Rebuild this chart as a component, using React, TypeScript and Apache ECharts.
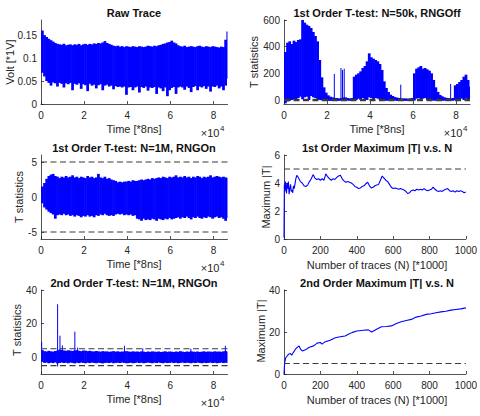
import React, { useEffect, useRef } from 'react';
import * as echarts from 'echarts';

const BLUE = '#0000ff';
const AXIS = '#262626';
const DASH = '#3a3a3a';
const FONT = '"Liberation Sans", Arial, Helvetica, sans-serif';

// ---- shared axis data ----
const BIN = 1000; // samples covered by one envelope bin (Time [*8ns])
const T_END = 86500;
const THRESHOLD = 5;
const TIME_TICKS = [0, 20000, 40000, 60000, 80000];
const N_TICKS = [0, 200, 400, 600, 800, 1000];
const RAW_TICKS = [0, 0.05, 0.1, 0.15];
const T50K_TICKS = [0, 200, 400, 600];
const T1M_TICKS = [-5, 0, 5];
const T2_TICKS = [0, 20, 40];
const MAX1_TICKS = [0, 2, 4, 6];

// ---- Raw trace envelope (Volt), one value per 1000-sample bin ----
const RAW_HI = [
  0.160, 0.150, 0.146, 0.142, 0.139, 0.136, 0.133, 0.131, 0.130, 0.129,
  0.131, 0.128, 0.129, 0.130, 0.128, 0.130, 0.129, 0.131, 0.128, 0.130,
  0.131, 0.129, 0.131, 0.130, 0.132, 0.131, 0.133, 0.132, 0.134, 0.137,
  0.133, 0.131, 0.129, 0.127, 0.126, 0.127, 0.125, 0.126, 0.124, 0.126,
  0.125, 0.124, 0.126, 0.125, 0.124, 0.126, 0.125, 0.124, 0.125, 0.127,
  0.126, 0.125, 0.127, 0.126, 0.128, 0.129, 0.131, 0.132, 0.134, 0.135,
  0.138, 0.134, 0.132, 0.128, 0.126, 0.125, 0.127, 0.124, 0.125, 0.126,
  0.125, 0.124, 0.126, 0.127, 0.125, 0.124, 0.126, 0.125, 0.124, 0.126,
  0.125, 0.124, 0.123, 0.125, 0.124, 0.140, 0.158,
];
const RAW_LO = [
  0.068, 0.060, 0.050, 0.046, 0.040, 0.047, 0.045, 0.038, 0.046, 0.044,
  0.036, 0.045, 0.043, 0.046, 0.030, 0.044, 0.042, 0.045, 0.033, 0.043,
  0.041, 0.028, 0.044, 0.040, 0.042, 0.034, 0.041, 0.043, 0.030, 0.040,
  0.042, 0.038, 0.040, 0.032, 0.039, 0.037, 0.038, 0.036, 0.038, 0.020,
  0.036, 0.037, 0.030, 0.036, 0.038, 0.025, 0.037, 0.035, 0.038, 0.029,
  0.036, 0.035, 0.037, 0.022, 0.036, 0.034, 0.028, 0.036, 0.017, 0.030,
  0.035, 0.037, 0.022, 0.036, 0.038, 0.036, 0.031, 0.038, 0.035, 0.026,
  0.037, 0.039, 0.030, 0.038, 0.036, 0.039, 0.033, 0.038, 0.027, 0.038,
  0.037, 0.040, 0.034, 0.038, 0.030, 0.040, 0.055,
];

// ---- 1st order T-test, N=50k, RNG off ----
const T50K_HI = [
  360, 430, 440, 420, 445, 435, 450, 455, 600, 580,
  565, 555, 540, 510, 480, 440, 300, 170, 95, 55,
  35, 25, 20, 15, 15, 12, 15, 20, 20, 15,
  12, 15, 175, 190, 200, 215, 240, 255, 290, 350,
  320, 310, 300, 290, 270, 225, 140, 90, 60, 40,
  30, 22, 18, 15, 12, 12, 12, 10, 12, 15,
  200, 235, 245, 255, 235, 240, 230, 220, 200, 150,
  95, 60, 38, 28, 20, 16, 14, 12, 15, 110,
  120, 135, 150, 175, 190, 150, 100,
];
const T50K_LO = [
  -25, -10, -5, 0, 5, 0, 15, 25, 5, 20,
  25, 0, 30, 20, 15, 5, 0, -3, -5, -5,
  -6, -7, -5, -6, -8, -6, -5, -7, -6, -5,
  -6, -5, -5, 0, 10, 0, 15, 5, 0, 20,
  15, 0, 15, 10, 0, -3, -5, -6, -5, -7,
  -6, -5, -7, -6, -5, -6, -7, -5, -6, -5,
  -5, 10, 15, 0, 10, 15, 0, 5, -3, -5,
  -6, -5, -7, -6, -5, -6, -7, -5, -6, 0,
  5, 0, 10, 0, 10, 0, -5,
];
const T50K_SPIKE_X = [23400, 26500, 27200, 28000, 54300, 77500];
const T50K_SPIKE_Y = [195, 240, 225, 235, 115, 120];

// ---- 1st order T-test, N=1M, RNG on ----
const T1M_HI = [
  1.5, 2.0, 2.6, 3.0, 3.2, 3.3, 3.0, 2.9, 2.7, 2.9,
  2.8, 3.0, 2.8, 2.9, 3.1, 2.8, 2.9, 2.7, 2.9, 2.8,
  2.7, 3.0, 2.8, 2.9, 2.7, 2.8, 3.3, 2.8, 2.7, 2.9,
  2.6, 2.7, 2.5, 2.4, 2.3, 2.1, 2.2, 2.1, 2.2, 2.2,
  2.3, 2.2, 2.4, 2.3, 2.3, 2.4, 2.5, 2.4, 2.5, 2.6,
  2.5, 2.7, 2.6, 2.7, 2.8, 2.7, 2.9, 2.8, 2.7, 2.9,
  2.8, 2.9, 3.1, 2.8, 2.9, 2.8, 3.0, 2.8, 2.9, 2.7,
  2.9, 2.8, 3.0, 2.9, 2.7, 2.9, 2.8, 2.9, 3.1, 2.8,
  2.9, 3.0, 2.9, 2.8, 2.9, 2.8, 2.7,
];
const T1M_LO = [
  -0.9, -1.5, -1.8, -2.1, -2.3, -2.5, -3.1, -2.6, -2.5, -2.6,
  -2.4, -2.6, -2.5, -2.7, -2.6, -2.8, -2.6, -2.7, -2.9, -2.7,
  -2.8, -2.6, -2.8, -2.7, -2.9, -2.6, -2.7, -2.5, -2.6, -2.4,
  -2.6, -2.7, -2.6, -2.7, -2.5, -2.4, -2.5, -2.4, -2.6, -2.5,
  -2.6, -2.5, -2.7, -2.6, -3.1, -3.2, -3.4, -3.1, -3.3, -3.2,
  -3.3, -3.1, -3.2, -3.4, -3.1, -3.2, -3.3, -3.1, -3.2, -3.0,
  -3.2, -3.1, -3.0, -2.9, -3.1, -2.9, -3.0, -2.8, -3.0, -3.2,
  -2.9, -3.0, -2.8, -3.0, -3.1, -2.9, -3.0, -2.8, -2.9, -3.1,
  -2.9, -2.8, -3.0, -2.9, -3.1, -3.4, -3.0,
];

// ---- 2nd order T-test, N=1M, RNG on ----
const T2_HI = [
  4.2, 3.6, 3.4, 3.8, 3.5, 3.3, 3.7, 3.9, 4.5, 4.3,
  4.0, 3.8, 4.1, 3.9, 3.7, 4.0, 4.2, 3.8, 3.6, 4.0,
  3.9, 3.6, 3.8, 3.5, 3.4, 3.7, 3.5, 3.3, 3.6, 3.4,
  3.5, 3.2, 3.4, 3.6, 3.3, 3.5, 3.2, 3.4, 3.3, 3.6,
  3.4, 3.2, 3.5, 3.3, 3.4, 3.2, 3.5, 3.3, 3.1, 3.4,
  3.2, 3.5, 3.3, 3.2, 3.4, 3.1, 3.3, 3.5, 3.2, 3.4,
  3.3, 3.1, 3.4, 3.2, 3.6, 3.3, 3.1, 3.4, 3.2, 3.5,
  3.3, 3.2, 3.4, 3.1, 3.3, 3.5, 3.2, 3.4, 3.3, 3.2,
  3.5, 3.3, 3.4, 3.2, 3.5, 3.6, 3.4,
];
const T2_LO = [
  -2.8, -3.4, -3.2, -3.6, -3.3, -3.5, -3.1, -3.7, -3.4, -3.2,
  -3.5, -3.3, -3.6, -3.2, -3.4, -3.7, -3.3, -3.5, -3.2, -3.4,
  -3.6, -3.3, -3.5, -3.2, -3.4, -3.6, -3.3, -3.5, -3.7, -3.4,
  -3.3, -3.5, -3.2, -3.6, -3.4, -3.3, -3.5, -3.2, -3.4, -3.6,
  -3.5, -3.3, -3.6, -3.4, -3.2, -3.5, -3.3, -3.6, -3.4, -3.2,
  -3.4, -3.6, -3.3, -3.5, -3.2, -3.4, -3.6, -3.3, -3.5, -3.4,
  -3.2, -3.5, -3.3, -3.6, -3.4, -3.2, -3.5, -3.3, -3.4, -3.6,
  -3.3, -3.5, -3.2, -3.4, -3.6, -3.3, -3.5, -3.4, -3.2, -3.5,
  -3.3, -3.6, -3.4, -3.2, -3.5, -3.3, -3.4,
];
const T2_SPIKE_X = [300, 7700, 8800, 9900, 15700, 17000, 38700, 47200, 69500, 85500];
const T2_SPIKE_LO = [0, -5.5, 0, 0, 0, 0, 0, 0, 0, 0];
const T2_SPIKE_HI = [9.0, 31.5, 12.8, 7.0, 15.2, 5.8, 6.8, 5.2, 5.0, 6.8];

// ---- 1st order maximum |T| vs N (N in thousands) ----
const N1 = [
  0, 2, 5, 8, 11, 14, 17, 20, 24, 28, 32, 36, 40, 44, 48, 52, 56, 60, 65, 70, 76, 82, 90, 100,
  110, 120, 130, 140, 150, 160, 170, 180, 190, 200,
  210, 220, 230, 240, 250, 260, 270, 280, 290, 300,
  310, 320, 330, 340, 350, 360, 370, 380, 390, 400,
  410, 420, 430, 440, 450, 460, 470, 480, 490, 500,
  510, 520, 530, 540, 550, 560, 570, 580, 590, 600,
  610, 620, 630, 640, 650, 660, 670, 680, 690, 700,
  710, 720, 730, 740, 750, 760, 770, 780, 790, 800,
  810, 820, 830, 840, 850, 860, 870, 880, 890, 900,
  910, 920, 930, 940, 950, 960, 970, 980, 990, 1000,
];
const MAXT1 = [
  0.1, 3.9, 3.4, 4.1, 3.7, 3.25, 4.0, 3.6, 4.1, 3.2, 3.6, 3.9, 3.4, 3.5, 3.3, 3.8, 3.6, 3.9, 4.3, 4.55, 4.45, 4.3, 4.1, 4.0,
  3.8, 3.75, 3.85, 4.1, 4.3, 4.6, 4.35, 4.25, 4.3, 4.2,
  4.3, 4.2, 4.65, 4.45, 4.3, 4.2, 4.3, 4.25, 4.4, 4.5,
  4.55, 4.3, 4.15, 4.05, 4.1, 4.05, 4.0, 3.9, 3.75, 3.7,
  3.6, 3.65, 3.75, 3.8, 3.95, 4.05, 3.8, 3.65, 3.7, 3.8,
  3.85, 3.9, 4.2, 4.5, 4.35, 4.2, 4.1, 3.9, 3.7, 3.6,
  3.65, 3.6, 3.55, 3.6, 3.55, 3.5, 3.4, 3.25, 3.3, 3.45,
  3.5, 3.45, 3.55, 3.5, 3.55, 3.5, 3.6, 3.5, 3.45, 3.5,
  3.55, 3.7, 3.55, 3.45, 3.4, 3.45, 3.4, 3.5, 3.55, 3.6,
  3.45, 3.4, 3.45, 3.35, 3.45, 3.4, 3.45, 3.4, 3.3, 3.35,
];

// ---- 2nd order maximum |T| vs N ----
const N2 = [
  0, 3.5, 9, 18, 27, 36, 42, 51, 63, 76,
  83, 91, 100, 118, 136, 163, 182, 200, 209, 227,
  254, 282, 309, 336, 354, 373, 400, 436, 464, 482,
  509, 536, 563, 591, 618, 645, 672, 700, 727, 754,
  782, 809, 836, 863, 890, 918, 945, 972, 1000,
];
const MAXT2 = [
  0.0, 5.3, 7.6, 8.7, 9.5, 9.8, 8.9, 10.2, 11.8, 12.9,
  13.3, 11.8, 11.0, 11.5, 12.6, 13.4, 14.7, 15.0, 14.2, 15.4,
  16.1, 17.3, 17.7, 18.1, 18.9, 19.7, 20.5, 20.8, 21.0, 20.0,
  21.3, 22.5, 22.6, 22.9, 24.0, 24.9, 25.5, 26.0, 27.1, 27.6,
  28.4, 28.7, 29.2, 29.6, 29.9, 30.4, 30.7, 31.0, 31.5,
];

const band = (hi: number[], lo: number[]) =>
  hi.map((h, i) => [i * BIN, lo[i], h]);
const zip = (xs: number[], ys: number[]) => xs.map((x, i) => [x, ys[i]]);

const GRIDS = [
  { left: 41, top: 20, width: 186.5, height: 84 },
  { left: 284, top: 20, width: 186, height: 84 },
  { left: 41, top: 155, width: 186.5, height: 84 },
  { left: 284, top: 155, width: 186, height: 84 },
  { left: 41, top: 290, width: 186.5, height: 84 },
  { left: 284, top: 290, width: 186, height: 84 },
];

function axis(gridIndex: number, min: number, max: number, ticks: number[], fmt: (v: number) => string, isX: boolean) {
  return {
    type: 'value',
    gridIndex,
    min,
    max,
    position: isX ? 'bottom' : 'left',
    axisLine: { show: true, onZero: false, lineStyle: { color: AXIS, width: 0.8 } },
    axisTick: { show: true, inside: true, length: 3, customValues: ticks, lineStyle: { color: AXIS, width: 0.8 } },
    axisLabel: {
      customValues: ticks,
      formatter: fmt,
      fontSize: 10,
      color: AXIS,
      fontFamily: FONT,
      margin: isX ? 6 : 4,
    },
    splitLine: { show: false },
  };
}

const timeFmt = (v: number) => String(Math.round(v / 1e4));
const plainFmt = (v: number) => String(v);

function bandRender(params: any, api: any) {
  const x = api.value(0);
  const lo = api.value(1);
  const hi = api.value(2);
  const a = api.coord([x, hi]);
  const b = api.coord([x + BIN, lo]);
  const cs = params.coordSys;
  const right = Math.min(b[0] + 0.6, cs.x + cs.width);
  return {
    type: 'rect',
    shape: { x: a[0], y: a[1], width: Math.max(0, right - a[0]), height: Math.max(0.8, b[1] - a[1]) },
    style: { fill: BLUE },
  };
}

function spikeRender(params: any, api: any) {
  const x = api.value(0);
  const a = api.coord([x, api.value(1)]);
  const b = api.coord([x, api.value(2)]);
  return {
    type: 'line',
    shape: { x1: a[0], y1: a[1], x2: b[0], y2: b[1] },
    style: { stroke: BLUE, lineWidth: 1 },
  };
}

function bandSeries(idx: number, data: number[][]) {
  return {
    type: 'custom',
    xAxisIndex: idx,
    yAxisIndex: idx,
    renderItem: bandRender,
    encode: { x: 0, y: [1, 2] },
    data,
    clip: true,
    silent: true,
    z: 2,
  };
}

function spikeSeries(idx: number, data: number[][]) {
  return {
    type: 'custom',
    xAxisIndex: idx,
    yAxisIndex: idx,
    renderItem: spikeRender,
    encode: { x: 0, y: [1, 2] },
    data,
    clip: true,
    silent: true,
    z: 2,
  };
}

function thresholdSeries(idx: number, xMax: number, level: number) {
  return {
    type: 'line',
    xAxisIndex: idx,
    yAxisIndex: idx,
    data: [[0, level], [xMax, level]],
    symbol: 'none',
    silent: true,
    lineStyle: { color: DASH, width: 1.1, type: [6, 3.5] },
    z: 4,
  };
}

function lineSeries(idx: number, data: number[][]) {
  return {
    type: 'line',
    xAxisIndex: idx,
    yAxisIndex: idx,
    data,
    symbol: 'none',
    silent: true,
    lineStyle: { color: BLUE, width: 1.1 },
    z: 3,
  };
}

function text(t: string, x: number, y: number, size: number, bold = false, rotate = false, align = 'center') {
  return {
    type: 'text',
    x,
    y,
    rotation: rotate ? Math.PI / 2 : 0,
    silent: true,
    style: {
      text: t,
      fill: bold ? '#111111' : AXIS,
      fontSize: size,
      fontWeight: bold ? 'bold' : 'normal',
      fontFamily: FONT,
      align,
      verticalAlign: 'middle',
    },
  };
}

function exponent(rightX: number, bottomY: number) {
  return [
    text('×10', rightX, bottomY + 29, 11, false, false, 'right'),
    text('4', rightX + 0.5, bottomY + 24.5, 8, false, false, 'left'),
  ];
}

export default function App() {
  const ref = useRef<HTMLDivElement>(null);

  useEffect(() => {
    if (!ref.current) return;
    const chart = echarts.init(ref.current, undefined, { renderer: 'svg' });

    const option: any = {
      animation: false,
      backgroundColor: '#ffffff',
      grid: GRIDS,
      xAxis: [
        axis(0, 0, T_END, TIME_TICKS, timeFmt, true),
        axis(1, 0, T_END, TIME_TICKS, timeFmt, true),
        axis(2, 0, T_END, TIME_TICKS, timeFmt, true),
        axis(3, 0, 1000, N_TICKS, plainFmt, true),
        axis(4, 0, T_END, TIME_TICKS, timeFmt, true),
        axis(5, 0, 1000, N_TICKS, plainFmt, true),
      ],
      yAxis: [
        axis(0, 0, 0.183, RAW_TICKS, plainFmt, false),
        axis(1, -30, 600, T50K_TICKS, plainFmt, false),
        axis(2, -6, 6, T1M_TICKS, plainFmt, false),
        axis(3, 0, 6, MAX1_TICKS, plainFmt, false),
        axis(4, -10, 40, T2_TICKS, plainFmt, false),
        axis(5, 0, 40, T2_TICKS, plainFmt, false),
      ],
      series: [
        bandSeries(0, band(RAW_HI, RAW_LO)),
        bandSeries(1, band(T50K_HI, T50K_LO)),
        spikeSeries(1, T50K_SPIKE_X.map((x, i) => [x, 0, T50K_SPIKE_Y[i]])),
        thresholdSeries(1, T_END, THRESHOLD),
        thresholdSeries(1, T_END, -THRESHOLD),
        bandSeries(2, band(T1M_HI, T1M_LO)),
        thresholdSeries(2, T_END, THRESHOLD),
        thresholdSeries(2, T_END, -THRESHOLD),
        lineSeries(3, zip(N1, MAXT1)),
        thresholdSeries(3, 1000, THRESHOLD),
        bandSeries(4, band(T2_HI, T2_LO)),
        spikeSeries(4, T2_SPIKE_X.map((x, i) => [x, T2_SPIKE_LO[i], T2_SPIKE_HI[i]])),
        thresholdSeries(4, T_END, THRESHOLD),
        thresholdSeries(4, T_END, -THRESHOLD),
        lineSeries(5, zip(N2, MAXT2)),
        thresholdSeries(5, 1000, THRESHOLD),
      ],
      graphic: [
        text('Raw Trace', 134, 12.5, 11, true),
        text('1st Order T-test: N=50k, RNGOff', 377, 12.5, 11, true),
        text('1st Order T-test: N=1M, RNGOn', 134, 147.5, 11, true),
        text('1st Order Maximum |T| v.s. N', 377, 147.5, 11, true),
        text('2nd Order T-test: N=1M, RNGOn', 134, 282.5, 11, true),
        text('2nd Order Maximum |T| v.s. N', 377, 282.5, 11, true),

        text('Time [*8ns]', 134, 129, 11),
        text('Time [*8ns]', 377, 129, 11),
        text('Time [*8ns]', 134, 264, 11),
        text('Number of traces (N) [*1000]', 377, 265, 11),
        text('Time [*8ns]', 134, 399, 11),
        text('Number of traces (N) [*1000]', 377, 400, 11),

        text('Volt [*1V]', 9.5, 62, 11, false, true),
        text('T statistics', 254, 62, 11, false, true),
        text('T statistics', 19, 197, 11, false, true),
        text('Maximum |T|', 266, 197, 11, false, true),
        text('T statistics', 17, 330, 11, false, true),
        text('Maximum |T|', 261, 331, 11, false, true),

        ...exponent(219.5, 104),
        ...exponent(462.5, 104),
        ...exponent(219.5, 239),
        ...exponent(219.5, 374),
      ],
    };

    chart.setOption(option);
    return () => chart.dispose();
  }, []);

  return (
    <div
      ref={ref}
      style={{ position: 'fixed', left: 0, top: 0, width: 480, height: 416, background: '#ffffff' }}
    />
  );
}
